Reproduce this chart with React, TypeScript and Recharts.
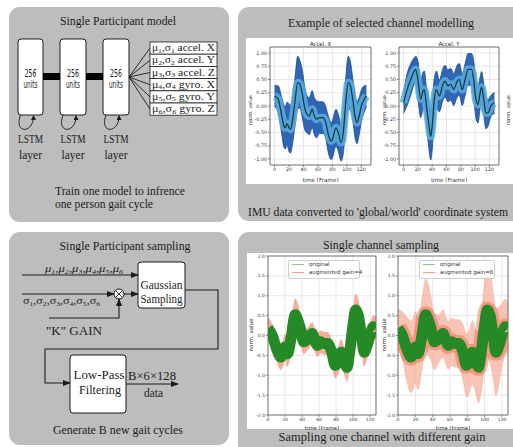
import React from 'react';
import { ComposedChart, Area, Line, XAxis, YAxis, CartesianGrid, ReferenceArea } from 'recharts';

// ---------- data ----------
const accelXFrames = [0, 5, 10, 13, 15, 17, 20, 22, 25, 28, 32, 35, 38, 42, 45, 48, 52, 55, 58, 62, 67, 70, 75, 78, 80, 83, 85, 88, 92, 95, 98, 102, 105, 108, 112, 114, 117, 120, 124, 127];
const accelXMean = [0.19, 0.13, -0.19, -0.38, -0.41, -0.33, -0.41, -0.44, -0.25, 0.06, 0.44, 0.41, 0.25, -0.06, -0.16, -0.19, -0.06, -0.19, -0.25, -0.22, -0.22, -0.28, -0.57, -0.66, -0.63, -0.47, -0.41, -0.5, -0.69, -0.5, 0.0, 0.44, 0.38, 0.13, -0.25, -0.31, -0.19, 0.0, 0.13, 0.19];
const accelXSpread = [0.2, 0.25, 0.35, 0.4, 0.4, 0.4, 0.45, 0.45, 0.45, 0.45, 0.5, 0.45, 0.45, 0.4, 0.35, 0.35, 0.35, 0.35, 0.35, 0.3, 0.3, 0.3, 0.35, 0.35, 0.35, 0.35, 0.35, 0.35, 0.35, 0.4, 0.45, 0.5, 0.45, 0.4, 0.4, 0.4, 0.35, 0.3, 0.25, 0.2];

const accelYFrames = [0, 5, 10, 15, 17, 20, 24, 27, 29, 32, 35, 38, 40, 43, 46, 50, 55, 58, 62, 66, 70, 75, 78, 82, 86, 90, 95, 98, 101, 104, 107, 109, 112, 115, 118, 122, 127];
const accelYMean = [0.06, 0.31, 0.5, 0.66, 0.69, 0.5, 0.13, 0.28, 0.31, 0.0, -0.31, -0.57, -0.38, 0.13, 0.31, 0.19, 0.41, 0.47, 0.38, 0.41, 0.31, 0.47, 0.5, 0.31, 0.5, 0.69, 0.69, 0.5, 0.13, 0.03, 0.25, 0.35, 0.13, -0.13, -0.13, 0.0, 0.06];
const accelYSpread = [0.2, 0.3, 0.3, 0.25, 0.25, 0.35, 0.35, 0.35, 0.35, 0.35, 0.45, 0.45, 0.45, 0.4, 0.35, 0.3, 0.3, 0.3, 0.3, 0.3, 0.3, 0.3, 0.3, 0.3, 0.3, 0.3, 0.3, 0.35, 0.35, 0.35, 0.3, 0.3, 0.3, 0.3, 0.25, 0.2, 0.2];

const sampFrames = [0, 5, 10, 15, 18, 20, 23, 27, 32, 35, 38, 42, 47, 52, 55, 58, 62, 66, 70, 75, 79, 82, 86, 90, 93, 96, 100, 103, 106, 110, 113, 116, 120, 124, 127];
const originalMean = [0.18, 0.0, -0.33, -0.54, -0.42, -0.29, -0.46, -0.08, 0.52, 0.39, 0.18, -0.16, -0.08, 0.05, -0.12, -0.25, -0.16, -0.2, -0.2, -0.42, -0.75, -0.67, -0.42, -0.67, -0.8, -0.42, 0.26, 0.64, 0.52, 0.0, -0.42, -0.29, 0.0, 0.22, 0.18];
const gain4Spread = [0.28, 0.28, 0.3, 0.32, 0.32, 0.32, 0.32, 0.35, 0.4, 0.4, 0.35, 0.3, 0.28, 0.28, 0.28, 0.28, 0.28, 0.28, 0.28, 0.3, 0.32, 0.32, 0.32, 0.32, 0.35, 0.35, 0.35, 0.4, 0.4, 0.35, 0.35, 0.32, 0.3, 0.28, 0.28];
const gain8Spread = [0.5, 0.6, 0.8, 0.9, 0.9, 0.9, 0.9, 0.9, 0.9, 0.9, 0.8, 0.7, 0.6, 0.6, 0.6, 0.6, 0.6, 0.6, 0.6, 0.7, 0.8, 0.8, 0.8, 0.8, 0.9, 1.0, 1.1, 1.2, 1.2, 1.1, 1.1, 1.0, 0.8, 0.7, 0.6];

const frameTicks = [0, 20, 40, 60, 80, 100, 120];
const accelYTicks = [-1, -0.75, -0.5, -0.25, 0, 0.25, 0.5, 0.75, 1];
const sampYTicks = [-2, -1.5, -1, -0.5, 0, 0.5, 1, 1.5, 2];

const outputLabels = [
  ['1', 'accel. X'], ['2', 'accel. Y'], ['3', 'accel. Z'],
  ['4', 'gyro. X'], ['5', 'gyro. Y'], ['6', 'gyro. Z'],
];

// ---------- tables ----------
const bandTable = (frames: number[], mean: number[], spread: number[]) =>
  frames.map((t, i) => ({ t, m: mean[i], band: [mean[i] - spread[i], mean[i] + spread[i]] }));

const accelXTable = bandTable(accelXFrames, accelXMean, accelXSpread);
const accelYTable = bandTable(accelYFrames, accelYMean, accelYSpread);
const gain4Table = bandTable(sampFrames, originalMean, gain4Spread);
const gain8Table = bandTable(sampFrames, originalMean, gain8Spread);

const SERIF = '"Liberation Serif", "Times New Roman", serif';
const SANS = '"DejaVu Sans", sans-serif';
const GRAY = '#bdbdbd';
const INK = '#1c1c1c';

type TProps = { x: number; y: number; w?: number; size?: number; anchor?: 'start' | 'middle' | 'end'; family?: string; children: React.ReactNode; rot?: boolean };
const T = ({ x, y, w, size = 12, anchor = 'middle', family = SERIF, children, rot }: TProps) => (
  <text
    x={x}
    y={y}
    fontSize={size}
    fontFamily={family}
    textAnchor={anchor}
    dominantBaseline="central"
    textLength={w}
    lengthAdjust={w ? 'spacingAndGlyphs' : undefined}
    fill={INK}
    transform={rot ? `rotate(-90 ${x} ${y})` : undefined}
  >
    {children}
  </text>
);

type ChartProps = {
  px: number; py: number; pw: number; ph: number;
  data: any[]; xDomain: [number, number]; yDomain: [number, number];
  yTicks: number[]; yFmt: (v: number) => string; yw: number; xh: number;
  tickFont: number; children: React.ReactNode;
};

function MiniChart({ px, py, pw, ph, data, xDomain, yDomain, yTicks, yFmt, yw, xh, tickFont, children }: ChartProps) {
  const MT = 6;
  const MR = 6;
  return (
    <div style={{ position: 'absolute', left: px - yw, top: py - MT }}>
      <ComposedChart width={yw + pw + MR} height={MT + ph + xh} data={data} margin={{ top: MT, right: MR, left: 0, bottom: 0 }}>
        <CartesianGrid stroke="#d6d6d6" strokeWidth={0.6} />
        <XAxis
          dataKey="t"
          type="number"
          domain={xDomain}
          ticks={frameTicks}
          interval={0}
          allowDataOverflow
          axisLine={false}
          tickSize={2}
          tickMargin={1}
          height={xh}
          tick={{ fontSize: tickFont, fill: '#333', fontFamily: SANS }}
          tickLine={{ stroke: '#444', strokeWidth: 0.6 }}
          label={{ value: 'time [Frame]', position: 'insideBottom', offset: 0, fontSize: tickFont + 0.8, fill: '#333', fontFamily: SANS }}
        />
        <YAxis
          type="number"
          domain={yDomain}
          ticks={yTicks}
          interval={0}
          allowDataOverflow
          axisLine={false}
          tickSize={2}
          tickMargin={1}
          width={yw}
          tickFormatter={yFmt}
          tick={{ fontSize: tickFont, fill: '#333', fontFamily: SANS }}
          tickLine={{ stroke: '#444', strokeWidth: 0.6 }}
        />
        {children}
        <ReferenceArea x1={xDomain[0]} x2={xDomain[1]} y1={yDomain[0]} y2={yDomain[1]} fill="none" stroke="#444" strokeWidth={0.7} ifOverflow="visible" />
      </ComposedChart>
    </div>
  );
}

const blueSeries = [
  <Area key="a" dataKey="band" type="monotone" stroke="#1d4a94" strokeWidth={0.8} fill="#2f66b4" fillOpacity={1} isAnimationActive={false} dot={false} activeDot={false} />,
  <Line key="b" dataKey="m" type="monotone" stroke="#5aaade" strokeOpacity={0.85} strokeWidth={8} dot={false} activeDot={false} isAnimationActive={false} />,
  <Line key="c" dataKey="m" type="monotone" stroke="#0b3a36" strokeWidth={1.2} dot={false} activeDot={false} isAnimationActive={false} />,
];

const gain4Series = [
  <Area key="a" dataKey="band" type="monotone" stroke="#f08a70" strokeOpacity={0.6} strokeWidth={0.5} fill="#f39a82" fillOpacity={0.8} isAnimationActive={false} dot={false} activeDot={false} />,
  <Line key="c" dataKey="m" type="monotone" stroke="#258a25" strokeWidth={11} dot={false} activeDot={false} isAnimationActive={false} />,
];

const gain8Series = [
  <Area key="a" dataKey="band" type="monotone" stroke="#f08a70" strokeOpacity={0.5} strokeWidth={0.5} fill="#f7b09c" fillOpacity={0.75} isAnimationActive={false} dot={false} activeDot={false} />,
  <Line key="b" dataKey="m" type="monotone" stroke="#ee6040" strokeOpacity={0.45} strokeWidth={17} dot={false} activeDot={false} isAnimationActive={false} />,
  <Line key="c" dataKey="m" type="monotone" stroke="#258a25" strokeWidth={11} dot={false} activeDot={false} isAnimationActive={false} />,
];

const LegendBox = ({ left, top, width, gain }: { left: number; top: number; width: number; gain: string }) => (
  <div style={{ position: 'absolute', left, top, width, height: 17, background: 'rgba(255,255,255,0.85)', border: '0.6px solid #d0d0d0', borderRadius: 2, fontFamily: SANS, fontSize: 5.5, color: '#333' }}>
    <div style={{ position: 'absolute', left: 3, top: 3, width: 12, height: 1, background: '#8cc68c' }} />
    <div style={{ position: 'absolute', left: 20, top: 0, lineHeight: '7px' }}>original</div>
    <div style={{ position: 'absolute', left: 3, top: 11, width: 12, height: 1, background: '#f4a08c' }} />
    <div style={{ position: 'absolute', left: 20, top: 8, lineHeight: '7px', whiteSpace: 'nowrap' }}>augmented gain={gain}</div>
  </div>
);

export default function App() {
  const boxes = [{ x: 18, w: 25 }, { x: 60, w: 26 }, { x: 103, w: 26 }];
  const rowH = 12.2;
  const rowTop = 42;
  return (
    <div style={{ position: 'fixed', left: 0, top: 0, width: 513, height: 447, background: '#fff', overflow: 'hidden' }}>
      <svg width={513} height={447} style={{ position: 'absolute', left: 0, top: 0 }}>
        <defs>
          <marker id="ah" markerUnits="userSpaceOnUse" markerWidth="8" markerHeight="6" refX="7" refY="3" orient="auto">
            <path d="M0,0 L8,3 L0,6 z" fill={INK} />
          </marker>
          <marker id="ahs" markerUnits="userSpaceOnUse" markerWidth="5" markerHeight="5" refX="4" refY="2.5" orient="auto">
            <path d="M0,0 L5,2.5 L0,5 z" fill={INK} />
          </marker>
        </defs>

        {/* panels */}
        <rect x={9} y={7} width={220} height={215} rx={11} fill={GRAY} />
        <rect x={238} y={7} width={290} height={214} rx={11} fill={GRAY} />
        <rect x={246} y={38} width={270} height={146} fill="#fff" />
        <rect x={9} y={232} width={220} height={213} rx={11} fill={GRAY} />
        <rect x={238} y={232} width={290} height={225} rx={11} fill={GRAY} />
        <rect x={247} y={253} width={270} height={176} fill="#fff" />

        {/* ---- top-left: model ---- */}
        <T x={118} y={20} w={116} size={13}>Single Participant model</T>
        {boxes.map((b, i) => (
          <g key={i}>
            <rect x={b.x} y={39} width={b.w} height={76} rx={3} fill="#fff" stroke={INK} strokeWidth={1} />
            <T x={b.x + b.w / 2} y={73} w={12} size={10} family={SANS}>256</T>
            <T x={b.x + b.w / 2} y={84} w={14} size={10} family={SANS}>units</T>
            <path
              d={`M ${b.x + b.w / 2 - 10} 115 C ${b.x + b.w / 2 - 17} 134, ${b.x + b.w / 2 + 3} 134, ${b.x + b.w / 2 + 3} 116`}
              fill="none" stroke={INK} strokeWidth={0.9} markerEnd="url(#ahs)"
            />
            <T x={b.x + b.w / 2} y={138} w={25} size={13}>LSTM</T>
            <T x={b.x + b.w / 2} y={154} w={23} size={13}>layer</T>
          </g>
        ))}
        <rect x={43} y={73} width={17} height={7} fill="#000" />
        <rect x={86} y={73} width={17} height={7} fill="#000" />
        {outputLabels.map((l, i) => {
          const y = rowTop + i * rowH;
          return (
            <g key={i}>
              <line x1={129} y1={77} x2={150} y2={y + rowH / 2} stroke={INK} strokeWidth={0.9} />
              <rect x={150} y={y} width={67} height={rowH} fill="#fff" stroke={INK} strokeWidth={0.8} />
              <text x={152} y={y + rowH / 2 + 3} fontSize={10.5} fontFamily={SERIF} fill={INK} textLength={63} lengthAdjust="spacingAndGlyphs">
                μ<tspan fontSize="7" dy="1.5">{l[0]}</tspan><tspan dy="-1.5">,σ</tspan><tspan fontSize="7" dy="1.5">{l[0]}</tspan><tspan dy="-1.5"> {l[1]}</tspan>
              </text>
            </g>
          );
        })}
        <T x={55} y={191} w={130} size={12.5} anchor="start">Train one model to infrence</T>
        <T x={55} y={204} w={98} size={12.5} anchor="start">one person gait cycle</T>

        {/* ---- top-right ---- */}
        <T x={381} y={22} w={186} size={13}>Example of selected channel modelling</T>
        <T x={378} y={212} w={260} size={12.5}>IMU data converted to 'global/world' coordinate system</T>
        <T x={320.5} y={43} w={21} size={6} family={SANS}>Accel. X</T>
        <T x={449} y={43} w={21} size={6} family={SANS}>Accel. Y</T>
        <T x={250} y={110} size={5} family={SANS} rot>norm. value</T>
        <T x={384} y={110} size={5} family={SANS} rot>norm. value</T>
        <T x={508} y={110} size={5} family={SANS} rot>norm. value</T>

        {/* ---- bottom-left: sampling ---- */}
        <T x={125} y={245} w={131} size={13}>Single Participant sampling</T>
        <text x={45} y={272} fontSize={11} fontFamily={SERIF} fill={INK} fontStyle="italic" textLength={78} lengthAdjust="spacingAndGlyphs">
          {['1', '2', '3', '4', '5', '6'].map((n, i) => (
            <React.Fragment key={i}>
              <tspan dy={i === 0 ? 0 : -1.5}>{i === 0 ? 'μ' : ',μ'}</tspan>
              <tspan fontSize="7" dy="1.5">{n}</tspan>
            </React.Fragment>
          ))}
        </text>
        <line x1={22} y1={275} x2={138} y2={275} stroke={INK} strokeWidth={1.1} markerEnd="url(#ah)" />
        <line x1={22} y1={294} x2={114} y2={294} stroke={INK} strokeWidth={1.1} markerEnd="url(#ah)" />
        <text x={23} y={304} fontSize={11} fontFamily={SERIF} fill={INK} textLength={77} lengthAdjust="spacingAndGlyphs">
          {['1', '2', '3', '4', '5', '6'].map((n, i) => (
            <React.Fragment key={i}>
              <tspan dy={i === 0 ? 0 : -1.5}>{i === 0 ? 'σ' : ',σ'}</tspan>
              <tspan fontSize="7" dy="1.5">{n}</tspan>
            </React.Fragment>
          ))}
        </text>
        <circle cx={119} cy={294} r={5} fill="#fff" stroke={INK} strokeWidth={1} />
        <line x1={115.5} y1={290.5} x2={122.5} y2={297.5} stroke={INK} strokeWidth={0.9} />
        <line x1={122.5} y1={290.5} x2={115.5} y2={297.5} stroke={INK} strokeWidth={0.9} />
        <line x1={124} y1={294} x2={138} y2={294} stroke={INK} strokeWidth={1.1} markerEnd="url(#ah)" />
        <polyline points="49,318 119,318 119,299" fill="none" stroke={INK} strokeWidth={1.1} markerEnd="url(#ah)" />
        <T x={74} y={331} w={56} size={12.5}>"K" GAIN</T>
        <rect x={138} y={262} width={47} height={46} rx={3} fill="#fff" stroke={INK} strokeWidth={1} />
        <T x={161.5} y={285} w={42} size={12.5}>Gaussian</T>
        <T x={161.5} y={299} w={42} size={12.5}>Sampling</T>
        <polyline points="185,290 218,290 218,349 45,349 45,383 70,383" fill="none" stroke={INK} strokeWidth={1.1} markerEnd="url(#ah)" />
        <rect x={70} y={355} width={56} height={58} rx={3} fill="#fff" stroke={INK} strokeWidth={1} />
        <T x={99} y={375} w={51} size={12.5}>Low-Pass</T>
        <T x={100} y={390} w={42} size={12.5}>Filtering</T>
        <line x1={126} y1={384} x2={178} y2={384} stroke={INK} strokeWidth={1.1} markerEnd="url(#ah)" />
        <T x={152} y={376} w={48} size={12.5}>B×6×128</T>
        <T x={153.5} y={393} w={19} size={12.5}>data</T>
        <T x={118} y={430} w={130} size={12.5}>Generate B new gait cycles</T>

        {/* ---- bottom-right ---- */}
        <T x={381} y={244} w={116} size={13}>Single channel sampling</T>
        <T x={382} y={437} w={207} size={12.5}>Sampling  one channel with different gain</T>
        <T x={251} y={335} size={5.5} family={SANS} rot>norm. value</T>
        <T x={384} y={335} size={5.5} family={SANS} rot>norm. value</T>
      </svg>

      <MiniChart px={270} py={47} pw={101} ph={118} data={accelXTable} xDomain={[-6.35, 133.35]} yDomain={[-1.113, 1.113]} yTicks={accelYTicks} yFmt={(v) => v.toFixed(2)} yw={20} xh={17} tickFont={4.8}>
        {blueSeries}
      </MiniChart>
      <MiniChart px={399} py={47} pw={100} ph={118} data={accelYTable} xDomain={[-6.35, 133.35]} yDomain={[-1.113, 1.113]} yTicks={accelYTicks} yFmt={(v) => v.toFixed(2)} yw={20} xh={17} tickFont={4.8}>
        {blueSeries}
      </MiniChart>
      <MiniChart px={268} py={256} pw={108} ph={159} data={gain4Table} xDomain={[0, 127]} yDomain={[-2, 2]} yTicks={sampYTicks} yFmt={(v) => v.toFixed(1)} yw={14} xh={15} tickFont={4.5}>
        {gain4Series}
      </MiniChart>
      <MiniChart px={398} py={256} pw={110} ph={159} data={gain8Table} xDomain={[0, 127]} yDomain={[-2, 2]} yTicks={sampYTicks} yFmt={(v) => v.toFixed(1)} yw={14} xh={15} tickFont={4.5}>
        {gain8Series}
      </MiniChart>
      <LegendBox left={288} top={260} width={70} gain="4" />
      <LegendBox left={419} top={260} width={74} gain="8" />
    </div>
  );
}
